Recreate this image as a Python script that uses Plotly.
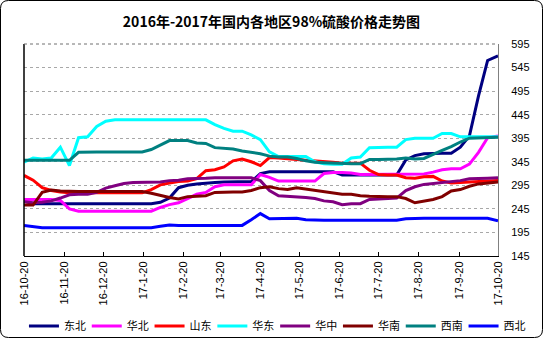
import pandas as pd
import plotly.graph_objects as go

# weekly observation dates (last point is 2017-10-20)
dates = list(pd.date_range("2016-10-20", periods=52, freq="7D").strftime("%Y-%m-%d")) + ["2017-10-20"]

tick_dates = ["2016-10-20", "2016-11-20", "2016-12-20", "2017-01-20", "2017-02-20", "2017-03-20",
              "2017-04-20", "2017-05-20", "2017-06-20", "2017-07-20", "2017-08-20", "2017-09-20", "2017-10-20"]
tick_labels = ["16-10-20", "16-11-20", "16-12-20", "17-1-20", "17-2-20", "17-3-20", "17-4-20",
               "17-5-20", "17-6-20", "17-7-20", "17-8-20", "17-9-20", "17-10-20"]
y_ticks = [145, 195, 245, 295, 345, 395, 445, 495, 545, 595]

dongbei = [262, 256, 256, 256, 256, 256, 256, 256, 256, 256, 256, 256, 256, 256, 256,
           259, 268, 290, 295, 298, 300, 301, 302, 302, 302, 303, 320, 324,
           324, 324, 324, 324, 324, 324, 324, 317, 317, 317, 317, 317, 317, 317,
           349, 358, 362, 363, 363, 363, 376, 400, 485, 560, 570]
huabei = [265, 265, 265, 265, 263, 245, 240, 240, 240, 240, 240, 240, 240, 240, 240,
          248, 254, 258, 267, 276, 280, 292, 296, 296, 296, 296, 318, 312,
          304, 304, 304, 304, 304, 320, 322, 322, 321, 318, 318, 318, 318, 318, 318, 318,
          319, 323, 328, 330, 330, 340, 365, 396, 400]
shandong = [316, 306, 290, 284, 281, 279, 279, 279, 279, 279, 279, 279, 279, 279,
            286, 296, 300, 303, 304, 309, 326, 328, 334, 347,
            351, 345, 337, 354, 353, 352, 350, 348, 347, 346,
            344, 342, 342, 342, 327, 318, 317, 317, 311, 310,
            313, 314, 304, 300, 301, 302, 303, 304, 305]
huadong = [344, 353, 351, 353, 376, 337, 396, 398, 420, 431,
           434, 434, 434, 434, 434, 434, 434, 434, 434, 434, 434,
           424, 416, 410, 410, 402, 392, 366, 356, 356, 356, 356,
           345, 341, 340, 340, 353, 355, 375, 376, 376, 376,
           392, 395, 395, 395, 405, 405, 398, 398, 398, 398, 398]
huazhong = [260, 258, 259, 262, 268, 275, 276, 276, 280, 289, 294, 299, 301, 301, 301,
            302, 305, 306, 309, 309, 310, 311, 311, 311, 311, 311,
            305, 284, 273, 272, 270, 269, 267, 262, 260, 254, 256, 256,
            265, 266, 267, 268, 284, 292, 297, 299, 300, 302, 305, 309, 309, 310, 311]
huanan = [253, 253, 280, 285, 283, 282, 282, 282, 282, 282, 282, 282, 282, 282,
          278, 273, 269, 266, 271, 272, 273, 280, 281, 281,
          281, 284, 290, 292, 288, 286, 290, 287, 284, 281,
          278, 276, 276, 273, 272, 271, 271, 271, 267, 258,
          262, 265, 271, 283, 286, 293, 298, 300, 302]
xinan = [348, 348, 348, 348, 348, 348, 365, 366, 366, 366, 366, 366, 366, 366,
         371, 380, 390, 390, 390, 385, 384, 375, 374, 372,
         368, 365, 362, 357, 355, 355, 352, 347, 344, 343,
         342, 341, 341, 341, 350, 350, 350, 351, 353, 351,
         352, 361, 369, 377, 387, 395, 396, 396, 397]
xibei = [210, 207, 205, 205, 205, 205, 205, 205, 205, 205, 205, 205, 205, 205, 205,
         208, 211, 210, 210, 210, 210, 210, 210, 210, 210,
         222, 235, 224, 224, 225, 225, 222,
         221, 221, 221, 221, 221, 221, 221, 221, 221, 221,
         224, 225, 225, 225, 225, 225, 225, 225, 225, 225, 220]

series_names = ["东北", "华北", "山东", "华东", "华中", "华南", "西南", "西北"]
series_values = [dongbei, huabei, shandong, huadong, huazhong, huanan, xinan, xibei]
series_colors = ["#000080", "#FF00FF", "#FF0000", "#00FFFF", "#800080", "#800000", "#008080", "#0000FF"]

W, H = 543, 338
ML, MR, MT, MB = 24, 45, 44, 82
PW, PH = W - ML - MR, H - MT - MB

fig = go.Figure()
for name, vals, col in zip(series_names, series_values, series_colors):
    fig.add_trace(go.Scatter(x=dates, y=vals, mode="lines", name=name,
                             line=dict(color=col, width=3)))

def px_x(p):
    return (p - ML) / PW

def px_y(p):
    return (H - MB - p) / PH

# rounded outer frame
x0, x1 = px_x(0.5), px_x(W - 0.5)
y0, y1 = px_y(H - 0.5), px_y(0.5)
rx, ry = 8 / PW, 8 / PH
path = (f"M {x0+rx},{y1} L {x1-rx},{y1} Q {x1},{y1} {x1},{y1-ry} L {x1},{y0+ry} "
        f"Q {x1},{y0} {x1-rx},{y0} L {x0+rx},{y0} Q {x0},{y0} {x0},{y0+ry} "
        f"L {x0},{y1-ry} Q {x0},{y1} {x0+rx},{y1} Z")

fig.update_layout(
    width=W, height=H,
    margin=dict(l=ML, r=MR, t=MT, b=MB, autoexpand=False),
    paper_bgcolor="white", plot_bgcolor="white",
    font=dict(family="Liberation Sans, Noto Sans CJK SC", color="black", size=11),
    title=dict(text="<b>2016年-2017年国内各地区98%硫酸价格走势图</b>",
               font=dict(family="Noto Sans CJK SC", size=14, color="black"),
               x=0.5, xanchor="center", y=1 - 22 / H, yanchor="middle", yref="container"),
    xaxis=dict(type="date", range=["2016-10-20", "2017-10-20"], tickvals=tick_dates,
               ticktext=tick_labels, tickangle=-90, ticks="inside", ticklen=4,
               tickcolor="black", showline=True, linecolor="black", linewidth=1,
               showgrid=False, zeroline=False,
               tickfont=dict(family="Liberation Sans", size=11, color="black")),
    yaxis=dict(range=[145, 595], side="right", tickvals=y_ticks, ticks="",
               showgrid=True, gridcolor="#A8A8A8", griddash="3px,3px", gridwidth=1,
               showline=True, linecolor="#808080", linewidth=1, zeroline=False,
               ticklabelstandoff=10,
               tickfont=dict(family="Liberation Sans", size=11, color="black")),
    legend=dict(orientation="h", x=-0.0001, xanchor="left", y=px_y(326), yanchor="middle",
                entrywidth=17.8, font=dict(family="Noto Sans CJK SC", size=11, color="black"),
                bgcolor="rgba(0,0,0,0)", itemwidth=30, tracegroupgap=0),
    showlegend=True,
    shapes=[
        dict(type="path", path=path, xref="paper", yref="paper",
             line=dict(color="black", width=1), layer="above"),
        dict(type="line", xref="paper", yref="paper", x0=0, x1=0, y0=0, y1=1,
             line=dict(color="black", width=1.5), layer="above"),
        dict(type="line", xref="paper", yref="paper", x0=0, x1=1, y0=1, y1=1,
             line=dict(color="#707070", width=1, dash="dot"), layer="above"),
    ],
)

fig.write_html("out.html")
